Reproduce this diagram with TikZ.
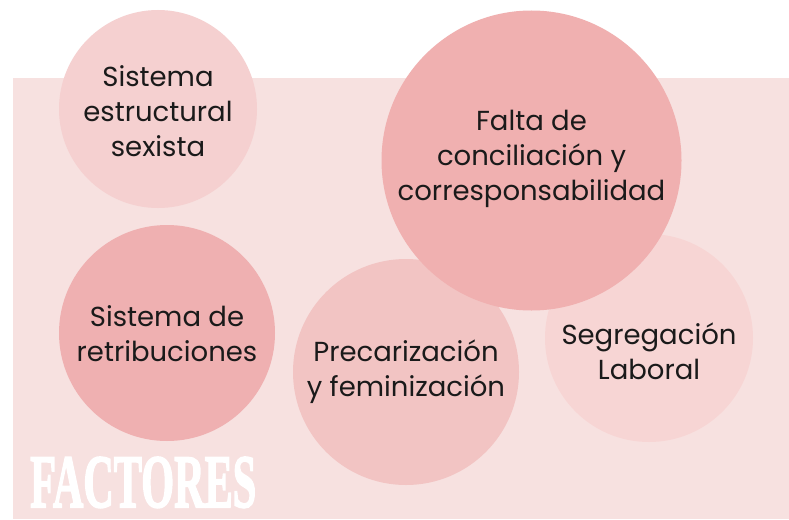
\documentclass[tikz,border=0pt]{standalone}
\usepackage{fontspec}
\usepackage{graphicx}
\setmainfont{Poppins}
\newfontfamily\factfont[FakeBold=2.5]{Liberation Serif}
\definecolor{bgpink}{HTML}{F7E1E0}
\definecolor{cA}{HTML}{F5D0D0}
\definecolor{cB}{HTML}{F0B0B0}
\definecolor{cC}{HTML}{EFB0B1}
\definecolor{cD}{HTML}{F2C4C3}
\definecolor{cE}{HTML}{F7D5D4}
\definecolor{txt}{HTML}{1A1A1A}
\tikzset{
  bubble/.style={circle, inner sep=0pt, draw=none},
  btext/.style={align=center, text=txt, font=\fontsize{27.5}{35}\selectfont, inner sep=0pt}
}
\begin{document}
\begin{tikzpicture}[x=1pt,y=-1pt]
\useasboundingbox (0,0) rectangle (789,519);
\fill[white] (0,0) rectangle (789,519);
\fill[bgpink] (13,78) rectangle (789,519);
\node[bubble, fill=cA, minimum size=198pt] (c1) at (158,109) {};
\node[bubble, fill=cC, minimum size=216pt] (c3) at (167,333) {};
\node[bubble, fill=cD, minimum size=226pt] (c4) at (406,372) {};
\node[bubble, fill=cE, minimum size=208pt] (c5) at (649,338) {};
\node[bubble, fill=cB, minimum size=300pt] (c2) at (531.5,160.5) {};
\node[btext] (t1) at (158,111) {Sistema\\estructural\\sexista};
\node[btext] (t2) at (531.5,159) {Falta de\\conciliación y\\corresponsabilidad};
\node[btext] (t3) at (167,334) {Sistema de\\retribuciones};
\node[btext] (t4) at (406,372) {Precarización\\y feminización};
\node[btext] (t5) at (649,351) {Segregación\\Laboral};
\node[inner sep=0pt, anchor=south west, text=white] (fact) at (30,508) {\resizebox{226pt}{50pt}{\factfont\bfseries FACTORES}};
\end{tikzpicture}
\end{document}
